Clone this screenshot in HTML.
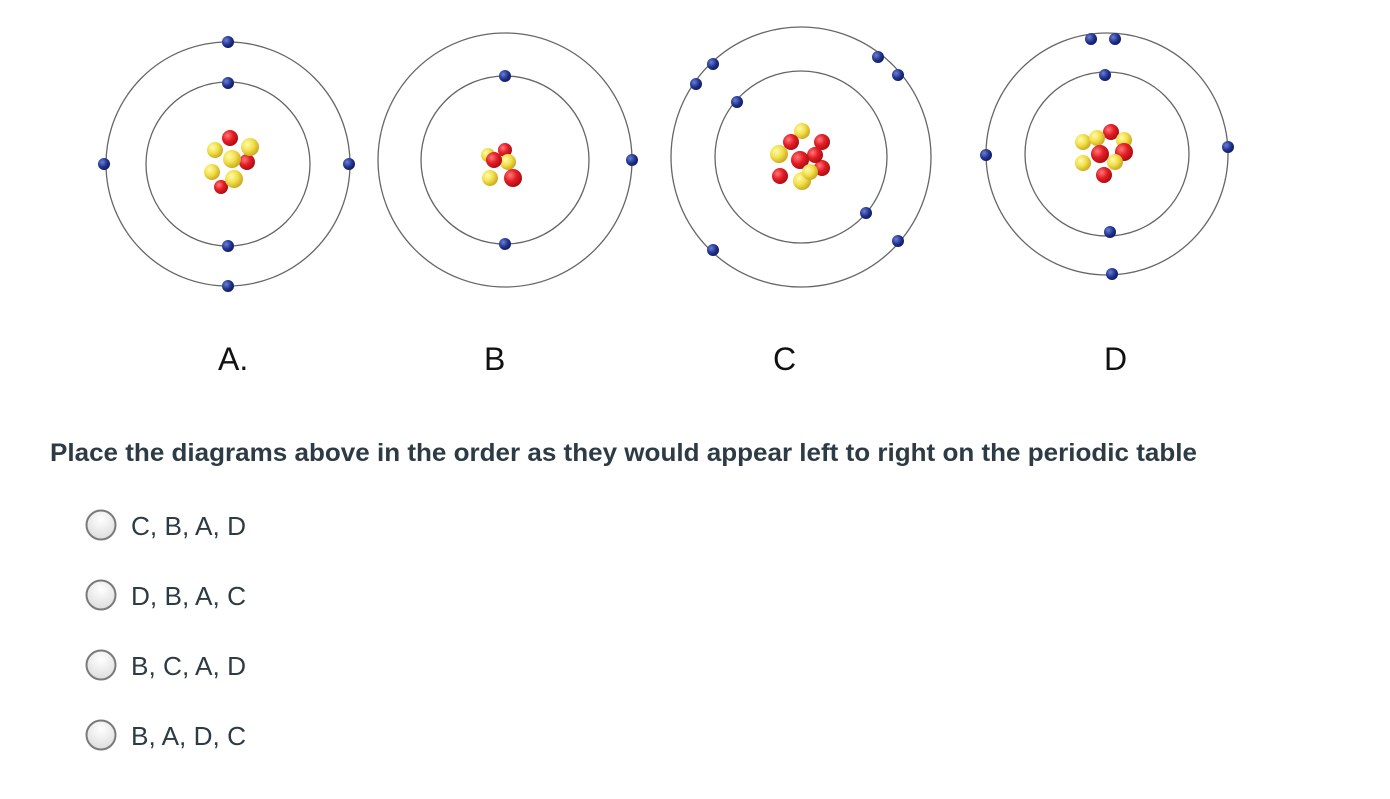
<!DOCTYPE html>
<html><head><meta charset="utf-8"><style>html,body{margin:0;padding:0;background:#fff}svg{display:block}</style></head>
<body>
<svg width="1390" height="799" viewBox="0 0 1390 799" xmlns="http://www.w3.org/2000/svg">
<defs>
<radialGradient id="r" cx="0.35" cy="0.35" r="0.7"><stop offset="0" stop-color="#ff7a7a"/><stop offset="0.5" stop-color="#e41d25"/><stop offset="1" stop-color="#a80c12"/></radialGradient>
<radialGradient id="y" cx="0.35" cy="0.35" r="0.7"><stop offset="0" stop-color="#fffbb0"/><stop offset="0.5" stop-color="#f2e04a"/><stop offset="1" stop-color="#c9a61c"/></radialGradient>
<radialGradient id="e" cx="0.35" cy="0.35" r="0.7"><stop offset="0" stop-color="#6b7fd0"/><stop offset="0.6" stop-color="#1f3190"/><stop offset="1" stop-color="#0f1a5a"/></radialGradient>
<radialGradient id="rb" cx="0.5" cy="0.3" r="0.8"><stop offset="0" stop-color="#ffffff"/><stop offset="1" stop-color="#d8d8d8"/></radialGradient>
</defs>
<g fill="none" stroke="#666" stroke-width="1.3">
<circle cx="228" cy="164" r="82"/><circle cx="228" cy="164" r="122"/>
<circle cx="505" cy="160" r="84"/><circle cx="505" cy="160" r="127"/>
<circle cx="801" cy="157" r="86"/><circle cx="801" cy="157" r="130"/>
<circle cx="1107" cy="154" r="82"/><circle cx="1107" cy="154" r="121"/>
</g>
<g fill="url(#e)">
<circle cx="228" cy="42" r="6"/><circle cx="228" cy="83" r="6"/><circle cx="228" cy="246" r="6"/><circle cx="228" cy="286" r="6"/><circle cx="104" cy="164" r="6"/><circle cx="349" cy="164" r="6"/>
<circle cx="505" cy="76" r="6"/><circle cx="505" cy="244" r="6"/><circle cx="632" cy="160" r="6"/>
<circle cx="737" cy="102" r="6"/><circle cx="866" cy="213" r="6"/><circle cx="713" cy="64" r="6"/><circle cx="696" cy="84" r="6"/><circle cx="878" cy="57" r="6"/><circle cx="898" cy="75" r="6"/><circle cx="713" cy="250" r="6"/><circle cx="898" cy="241" r="6"/>
<circle cx="1091" cy="39" r="6"/><circle cx="1115" cy="39" r="6"/><circle cx="1105" cy="75" r="6"/><circle cx="1110" cy="232" r="6"/><circle cx="1112" cy="274" r="6"/><circle cx="986" cy="155" r="6"/><circle cx="1228" cy="147" r="6"/>
</g>
<!-- nucleus A -->
<g>
<circle cx="221" cy="187" r="7" fill="url(#r)"/><circle cx="247" cy="162" r="8" fill="url(#r)"/>
<circle cx="230" cy="138" r="8" fill="url(#r)"/>
<circle cx="215" cy="150" r="8" fill="url(#y)"/><circle cx="250" cy="147" r="9" fill="url(#y)"/>
<circle cx="212" cy="172" r="8" fill="url(#y)"/><circle cx="232" cy="159" r="9" fill="url(#y)"/>
<circle cx="234" cy="179" r="9" fill="url(#y)"/>
</g>
<!-- nucleus B -->
<g>
<circle cx="505" cy="150" r="7" fill="url(#r)"/><circle cx="490" cy="178" r="8" fill="url(#y)"/>
<circle cx="508" cy="162" r="8" fill="url(#y)"/><circle cx="488" cy="155" r="7" fill="url(#y)"/>
<circle cx="494" cy="160" r="8" fill="url(#r)"/><circle cx="513" cy="178" r="9" fill="url(#r)"/>
</g>
<!-- nucleus C -->
<g>
<circle cx="802" cy="131" r="8" fill="url(#y)"/><circle cx="822" cy="142" r="8" fill="url(#r)"/>
<circle cx="779" cy="154" r="9" fill="url(#y)"/><circle cx="822" cy="168" r="8" fill="url(#r)"/>
<circle cx="780" cy="176" r="8" fill="url(#r)"/><circle cx="802" cy="181" r="9" fill="url(#y)"/>
<circle cx="791" cy="142" r="8" fill="url(#r)"/><circle cx="815" cy="155" r="8" fill="url(#r)"/>
<circle cx="800" cy="160" r="9" fill="url(#r)"/><circle cx="810" cy="172" r="8" fill="url(#y)"/>
</g>
<!-- nucleus D -->
<g>
<circle cx="1111" cy="132" r="8" fill="url(#r)"/><circle cx="1083" cy="142" r="8" fill="url(#y)"/>
<circle cx="1097" cy="138" r="8" fill="url(#y)"/><circle cx="1124" cy="140" r="8" fill="url(#y)"/>
<circle cx="1083" cy="163" r="8" fill="url(#y)"/><circle cx="1104" cy="175" r="8" fill="url(#r)"/>
<circle cx="1124" cy="152" r="9" fill="url(#r)"/><circle cx="1100" cy="154" r="9" fill="url(#r)"/>
<circle cx="1115" cy="162" r="8" fill="url(#y)"/>
</g>
<g font-family="Liberation Sans, sans-serif" font-size="32" fill="#111">
<text x="218" y="370">A.</text><text x="484" y="370">B</text><text x="773" y="370">C</text><text x="1104" y="370">D</text>
</g>
<text x="50" y="461" font-family="Liberation Sans, sans-serif" font-size="25" font-weight="bold" fill="#2d3b45" textLength="1147" lengthAdjust="spacingAndGlyphs">Place the diagrams above in the order as they would appear left to right on the periodic table</text>
<g stroke="#7a7a7a" stroke-width="2" fill="url(#rb)">
<circle cx="101" cy="525" r="14.5"/><circle cx="101" cy="595" r="14.5"/><circle cx="101" cy="665" r="14.5"/><circle cx="101" cy="735" r="14.5"/>
</g>
<g font-family="Liberation Sans, sans-serif" font-size="26" fill="#2d3b45">
<text x="131" y="535" textLength="115" lengthAdjust="spacingAndGlyphs">C, B, A, D</text>
<text x="131" y="605" textLength="115" lengthAdjust="spacingAndGlyphs">D, B, A, C</text>
<text x="131" y="675" textLength="115" lengthAdjust="spacingAndGlyphs">B, C, A, D</text>
<text x="131" y="745" textLength="115" lengthAdjust="spacingAndGlyphs">B, A, D, C</text>
</g>
</svg>
</body></html>
